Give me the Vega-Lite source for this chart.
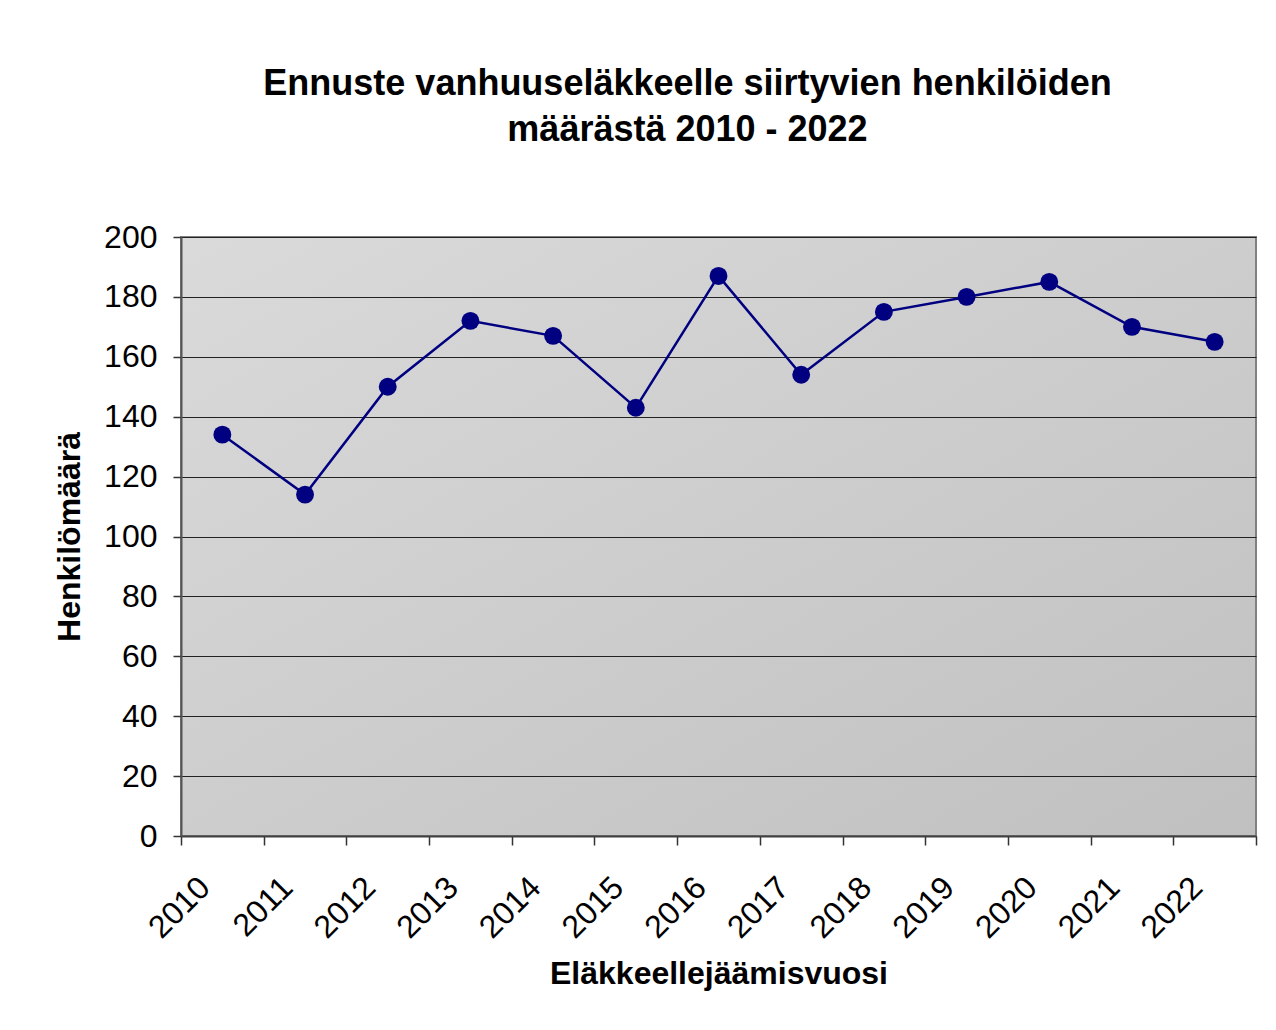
{
  "$schema": "https://vega.github.io/schema/vega-lite/v6.json",
  "width": 1075,
  "height": 599,
  "autosize": {"type": "none"},
  "padding": {"left": 181, "top": 237, "right": 20, "bottom": 194},
  "background": "white",
  "config": {
    "font": "Liberation Sans",
    "view": {
      "stroke": "#808080", "strokeWidth": 2,
      "fill": {
        "gradient": "linear", "x1": 0, "y1": 0, "x2": 1, "y2": 1,
        "stops": [{"offset": 0, "color": "#dadada"}, {"offset": 1, "color": "#c0c0c0"}]
      }
    },
    "axis": {"labelFont": "Liberation Sans", "titleFont": "Liberation Sans", "labelColor": "black", "titleColor": "black"}
  },
  "title": {
    "text": ["Ennuste vanhuuseläkkeelle siirtyvien henkilöiden", "määrästä 2010 - 2022"],
    "font": "Liberation Sans",
    "fontSize": 36,
    "fontWeight": "bold",
    "color": "black",
    "anchor": "middle",
    "dx": -31,
    "offset": 72,
    "lineHeight": 46
  },
  "data": {
    "values": [
      {"vuosi": "2010", "maara": 134},
      {"vuosi": "2011", "maara": 114},
      {"vuosi": "2012", "maara": 150},
      {"vuosi": "2013", "maara": 172},
      {"vuosi": "2014", "maara": 167},
      {"vuosi": "2015", "maara": 143},
      {"vuosi": "2016", "maara": 187},
      {"vuosi": "2017", "maara": 154},
      {"vuosi": "2018", "maara": 175},
      {"vuosi": "2019", "maara": 180},
      {"vuosi": "2020", "maara": 185},
      {"vuosi": "2021", "maara": 170},
      {"vuosi": "2022", "maara": 165}
    ]
  },
  "layer": [
    {
      "mark": {"type": "line", "color": "#000080", "strokeWidth": 2.5},
      "encoding": {
        "x": {
          "field": "vuosi", "type": "ordinal",
          "scale": {"paddingInner": 0, "paddingOuter": 0},
          "axis": {
            "title": "Eläkkeellejäämisvuosi",
            "titleFontSize": 32, "titleFontWeight": "bold", "titlePadding": 15,
            "labelFontSize": 32, "labelAngle": -45, "labelAlign": "right", "labelBaseline": "middle",
            "labelPadding": 37, "labelOffset": -18,
            "tickBand": "extent", "tickSize": 9, "tickColor": "#333333", "tickWidth": 1.5,
            "domainColor": "#404040", "domainWidth": 2, "grid": false
          }
        },
        "y": {
          "field": "maara", "type": "quantitative",
          "scale": {"domain": [0, 200]},
          "axis": {
            "title": "Henkilömäärä",
            "titleFontSize": 32, "titleFontWeight": "bold", "titlePadding": 17,
            "labelFontSize": 32, "labelPadding": 16,
            "values": [0, 20, 40, 60, 80, 100, 120, 140, 160, 180, 200],
            "tickSize": 8, "tickColor": "#333333", "tickWidth": 1.5,
            "domainColor": "#555555", "domainWidth": 2,
            "grid": true, "gridColor": "#222222", "gridWidth": 1
          }
        }
      }
    },
    {
      "mark": {"type": "circle", "color": "#000080", "opacity": 1, "size": 320},
      "encoding": {
        "x": {"field": "vuosi", "type": "ordinal"},
        "y": {"field": "maara", "type": "quantitative"}
      }
    }
  ]
}
